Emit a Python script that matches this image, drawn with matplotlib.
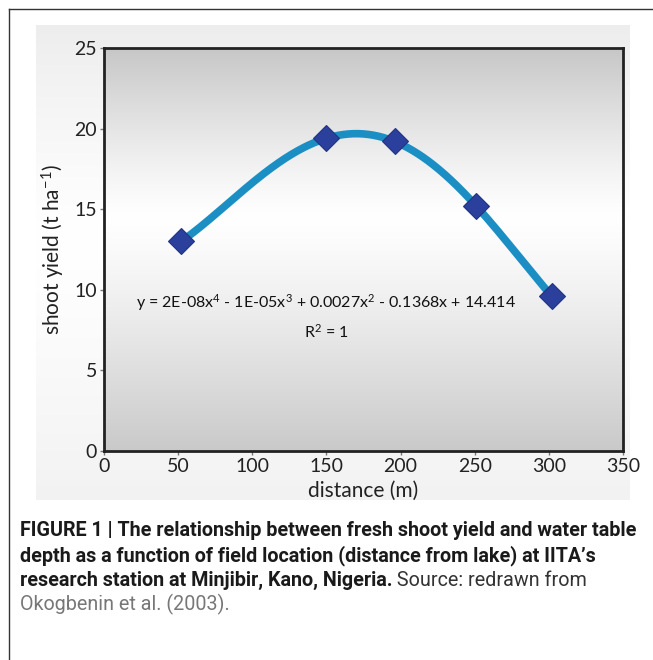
import numpy as np
import matplotlib
matplotlib.use('Agg')
import matplotlib.pyplot as plt
from matplotlib.lines import Line2D

# data
distance = [52, 150, 196, 251, 302]
yield_t = [13.0, 19.4, 19.2, 15.2, 9.6]
x_ticks = [0, 50, 100, 150, 200, 250, 300, 350]
y_ticks = [0, 5, 10, 15, 20, 25]

equation = r'y = 2E-08x$^{4}$ - 1E-05x$^{3}$ + 0.0027x$^{2}$ - 0.1368x + 14.414'
r2_text = r'R$^{2}$ = 1'

caption_bold = ['FIGURE 1 | The relationship between fresh shoot yield and water table',
                'depth as a function of field location (distance from lake) at IITA\u2019s',
                'research station at Minjibir, Kano, Nigeria.']
caption_rest = ' Source: redrawn from'
caption_last = 'Okogbenin et al. (2003).'

plt.rcParams['mathtext.fontset'] = 'custom'
plt.rcParams['mathtext.rm'] = 'Lato'
plt.rcParams['mathtext.it'] = 'Lato'

fig = plt.figure(figsize=(6.53, 6.60), dpi=100)


def vgrad(n, lo, hi, mid):
    # gray level per row, whitest at fraction `mid` from top
    t = np.linspace(0, 1, n)
    d = np.where(t < mid, (mid - t) / mid, (t - mid) / (1 - mid))
    top = np.where(t < mid, lo, hi)
    v = 1 - (1 - top) * d ** 1.2
    return np.repeat(v[:, None, None], 3, axis=2)


# light gray chart-area backdrop
bg = fig.add_axes([36 / 653, 1 - 500 / 660, 594 / 653, 475 / 660])
bg.imshow(vgrad(200, 0.93, 0.95, 0.45), aspect='auto', extent=[0, 1, 0, 1])
bg.axis('off')

ax = fig.add_axes([104 / 653, 1 - 451 / 660, 519 / 653, 403 / 660])
ax.imshow(vgrad(300, 0.78, 0.79, 0.42), aspect='auto', extent=[0, 350, 0, 25], zorder=0)

# 4th order trend line through the points
coef = np.polyfit(distance, yield_t, 4)
xs = np.linspace(min(distance), max(distance), 300)
ax.plot(xs, np.polyval(coef, xs), color='#1b8fc4', lw=5.5, solid_capstyle='butt', zorder=2)
ax.plot(distance, yield_t, 'D', color='#2b3f9c', markersize=13, markeredgecolor='#22357f',
        markeredgewidth=0.8, zorder=3)

ax.set_xlim(0, 350)
ax.set_ylim(0, 25)
ax.set_xticks(x_ticks)
ax.set_yticks(y_ticks)
font = 'Lato'
for lab in ax.get_xticklabels() + ax.get_yticklabels():
    lab.set_fontfamily(font)
    lab.set_fontsize(14)
    lab.set_color('#222222')
ax.tick_params(length=3, width=1, color='#777777', pad=2)
for s in ax.spines.values():
    s.set_linewidth(2)
    s.set_color('#222222')
ax.set_xlabel('distance (m)', fontfamily=font, fontsize=15, color='#222222', labelpad=4)
ax.set_ylabel(r'shoot yield (t ha$^{-1}$)', fontfamily=font, fontsize=15,
              color='#222222', labelpad=5)

ax.text(150, 9.2, equation, ha='center', va='center', fontfamily=font, fontsize=11.5,
        color='#111111')
ax.text(150, 7.4, r2_text, ha='center', va='center', fontfamily=font, fontsize=11.5,
        color='#111111')

# outer frame (top and left only)
fig.add_artist(Line2D([9 / 653, 1], [1 - 9 / 660] * 2, color='#333333', lw=1))
fig.add_artist(Line2D([9 / 653] * 2, [0, 1 - 9 / 660], color='#333333', lw=1))

# caption
cx = 20 / 653
ys = [531, 556, 580, 604]
t = None
for i, line in enumerate(caption_bold):
    t = fig.text(cx, 1 - ys[i] / 660, line, fontfamily='Roboto', fontweight='bold',
                 fontsize=14.2, color='#1a1a1a', va='center')
fig.canvas.draw()
bb = t.get_window_extent()
fig.text(bb.x1 / fig.bbox.width, 1 - ys[2] / 660, caption_rest, fontfamily='Roboto',
         fontsize=14.2, color='#333333', va='center')
fig.text(cx, 1 - ys[3] / 660, caption_last, fontfamily='Roboto', fontsize=14.2,
         color='#777777', va='center')

plt.savefig('out.png', dpi=100)
plt.close()
